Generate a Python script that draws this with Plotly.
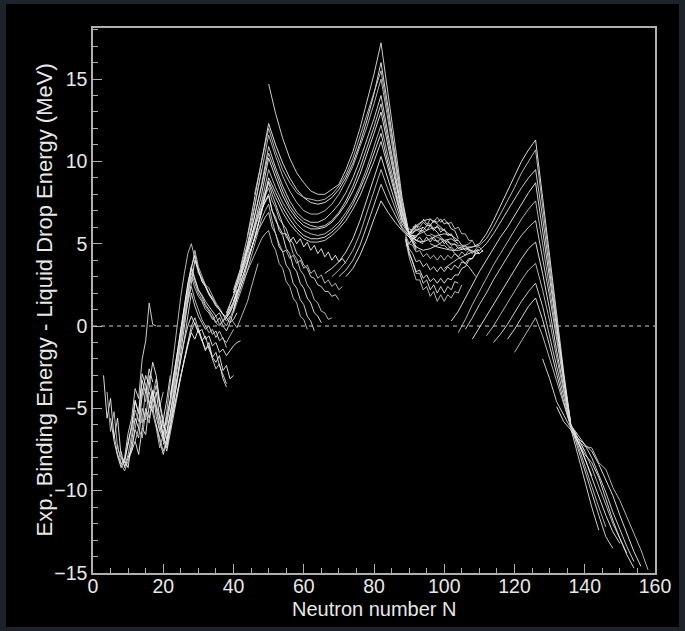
import plotly.graph_objects as go

# ---------------- data ----------------
# Light isotope chains, one value per neutron number (step 1)
LIGHT_N0 = [3, 4, 6, 5, 7, 8, 10, 12, 14, 16, 18, 16, 20, 19, 22, 20, 21, 22, 9]
LIGHT_VALS = [
    [-3.0, -5.6, -4.4, -6.8, -5.6, -7.9, -8.3, -7.0, -6.2, -4.6, -5.3, -3.3, -4.1, -2.6, -3.4],
    [-4.0, -6.4, -5.2, -7.4, -8.0, -8.5, -7.8, -6.6, -5.1, -5.8, -3.8, -4.6, -3.0, -4.2, -3.2, -4.9, -4.0],
    [-6.6, -7.8, -8.4, -8.0, -6.5, -5.6, -3.8, -4.4, -2.0, -0.9, 1.4, 0.1, 0.0],
    [-5.6, -7.0, -7.9, -8.6, -8.1, -7.2, -6.0, -4.5, -5.3, -2.9, -3.6, -4.8, -3.9, -5.5, -6.4, -5.7, -4.5, -3.0],
    [-7.2, -8.4, -8.8, -8.2, -7.6, -6.2, -5.1, -5.9, -3.8, -4.6, -5.3, -6.2, -7.4, -6.6, -5.2, -3.4, -1.6, 0.2, 1.8, 3.2,
     4.4, 5.0, 4.0, 3.2, 2.9, 2.5, 2.0, 1.6],
    [-7.6, -8.6, -8.0, -7.4, -6.3, -6.8, -5.0, -5.7, -3.6, -4.3, -5.0, -6.0, -6.8, -7.6, -6.5, -5.3, -4.2, -3.1, -2.0, -1.0,
     0.0, 0.5, -0.2, -0.8, -1.4, -1.2, -2.0, -2.6, -2.3, -3.2, -3.7],
    [-8.0, -7.6, -7.0, -7.8, -6.2, -6.6, -4.8, -5.2, -4.0, -5.6, -6.8, -7.2, -6.0, -5.1, -4.0, -3.0, -2.0, -1.1, -0.4, -0.8,
     -0.2, -0.9, -1.5, -1.0, -1.9, -2.2, -1.8, -2.7, -2.4, -3.2, -3.0],
    [-7.0, -6.2, -6.8, -5.2, -5.9, -4.4, -5.0, -6.3, -7.0, -5.9, -4.6, -3.2, -1.8, -0.3, 1.0, 2.1, 3.0, 2.3, 1.8, 1.5,
     1.0, 0.8, 0.4, 0.6, 0.1, 0.3, 0.0, 0.5, 1.0, 1.8],
    [-6.2, -5.0, -5.6, -4.4, -3.6, -4.8, -6.0, -6.5, -5.4, -4.0, -2.5, -1.0, 0.4, 1.6, 3.5, 2.8, 2.2, 1.9, 1.5, 1.2,
     0.9, 0.6, 0.8, 0.3, 0.5, 0.9, 1.4, 2.2],
    [-5.0, -4.0, -4.8, -5.6, -6.6, -7.4, -6.2, -4.8, -3.2, -1.6, 0.0, 1.5, 2.6, 4.0, 3.4, 2.7, 2.4, 1.9, 1.6, 1.2,
     1.0, 0.7, 0.5, 0.2, 0.4, 0.8],
    [-6.0, -6.8, -7.6, -6.9, -5.5, -3.8, -2.2, -0.6, 0.9, 2.2, 3.4, 4.6, 3.6, 3.0, 2.5, 2.3, 1.8, 1.4, 1.1, 0.7,
     0.3, 0.6, 0.2, -0.1, 0.4, 0.9, 1.5, 2.3, 3.0, 3.8],
    [-4.0, -5.0, -6.1, -7.0, -7.8, -7.0, -6.2, -5.0, -4.1, -3.0, -2.0, -1.2, -0.3, 0.2, -0.3, -0.9, -0.6, -1.4, -1.9, -1.6,
     -2.4, -2.9, -3.5],
    [-7.2, -6.4, -5.3, -4.2, -3.0, -1.9, -0.9, 0.0, 0.6, 0.1, -0.4, -0.2, -0.8, -0.6, -1.2, -1.0, -1.6, -1.4, -1.8, -1.5,
     -1.2, -1.0, -0.9],
    [-5.4, -6.2, -5.8, -4.5, -3.4, -2.0, -0.8, 0.4, 1.5, 2.4, 1.6, 1.0, 0.4, 0.0, -0.4, -0.2, -0.7, -0.3, -0.8, -1.0,
     -0.6, -0.2],
    [-4.2, -3.0, -1.6, -0.2, 1.3, 2.6, 3.6, 2.9, 2.2, 1.8, 1.3, 1.0, 0.7, 0.2, 0.5, 0.0, -0.3, 0.2, 0.9, 1.8,
     2.8, 3.8, 4.9, 6.0, 7.2, 8.3, 9.5],
    [-6.6, -5.6, -4.4, -3.0, -1.6, -0.2, 1.2, 2.5, 3.6, 4.3, 3.4, 2.8, 2.4, 2.0, 1.7, 1.3, 1.0, 0.7, 0.5, 0.8, 1.3, 2.0],
    [-6.0, -4.8, -3.6, -2.2, -0.8, 0.6, 1.8, 3.2, 2.6, 2.0, 1.6, 1.2, 0.9, 0.5, 0.2, 0.0, 0.3, 0.7, 1.2],
    [-5.8, -4.6, -3.3, -2.0, -0.8, 0.6, 2.0, 1.2, 0.6, 0.2, -0.2, 0.0, -0.5, -0.3, -0.9, -0.7, -1.3],
    [-8.2, -8.6, -7.0, -5.6, -6.2, -4.2, -3.0, -3.6, -2.2, -3.0, -4.6, -5.8, -6.9, -6.0],
]

# Chains falling away from the N=50 closure (step 1)
FALL_N0 = [38, 38, 40, 42, 44, 40, 40]
FALL_VALS = [
    [0.6, 1.0, 1.4, 1.9, 2.4, 2.9, 3.4, 3.9, 4.4, 4.9, 5.3, 5.6, 5.8, 5.0, 4.6, 3.8, 3.5, 2.7, 2.4, 1.7, 1.4, 0.6, 0.4, -0.2],
    [0.8, 1.3, 1.8, 2.4, 3.0, 3.6, 4.2, 4.8, 5.3, 5.8, 6.2, 6.6, 6.9, 6.0, 5.6, 4.8, 4.5, 3.7, 3.4, 2.6, 2.3, 1.6, 1.3,
     0.6, 0.3, -0.3],
    [2.0, 2.7, 3.4, 4.1, 4.8, 5.4, 6.0, 6.6, 7.1, 7.5, 7.9, 7.0, 6.6, 5.8, 5.5, 4.7, 4.4, 3.6, 3.3, 2.6, 2.3, 1.7, 1.4,
     0.8, 0.6, 0.2],
    [3.0, 3.8, 4.6, 5.3, 6.0, 6.7, 7.3, 7.9, 8.4, 7.6, 7.2, 6.5, 6.2, 5.4, 5.1, 4.4, 4.1, 3.4, 3.1, 2.5, 2.2, 1.6, 1.4,
     0.9, 0.8, 0.4, 0.5],
    [4.5, 5.3, 6.0, 6.8, 7.5, 8.1, 8.7, 8.0, 7.4, 6.9, 6.2, 5.9, 5.3, 5.0, 4.4, 4.2, 3.7, 3.5, 3.0, 2.9, 2.5, 2.4, 2.1,
     2.1, 1.8, 1.9, 1.6],
    [1.0, 1.6, 2.3, 3.0, 3.8, 4.6, 5.4, 6.2, 7.0, 7.6, 8.0, 7.0, 6.4, 6.0, 5.6, 5.6, 5.1, 5.4, 5.0, 5.3, 4.8, 5.1, 4.6,
     4.9, 4.4, 4.7, 4.2, 4.5, 4.0, 4.3, 3.9, 4.1, 3.8],
    [0.8, 1.4, 2.0, 2.7, 3.4, 4.2, 5.0, 5.8, 6.5, 7.0, 7.4, 6.4, 5.6, 5.0, 4.5, 4.6, 4.1, 4.3, 3.8, 4.0, 3.5, 3.7, 3.2,
     3.4, 2.9, 3.1, 2.6, 2.8, 2.4, 2.6, 2.2, 2.4],
]

# Chains spanning N=50 and N=82 closures (even N only, step 2)
U_N0 = [50, 44, 42, 40, 40, 38, 38, 66, 68, 70, 72, 46, 42, 40]
U_VALS = [
    [14.7, 12.9, 11.4, 10.2, 9.3, 8.7, 8.2, 8.0, 8.0, 8.3, 8.6, 9.5, 10.6, 12.0, 13.6, 15.3, 17.2, 14.2, 11.0, 7.8,
     5.6, 5.0],
    [5.5, 7.8, 10.0, 12.3, 11.0, 9.9, 9.0, 8.3, 7.8, 7.5, 7.4, 7.5, 7.8, 8.3, 9.0, 9.9, 11.1, 12.5, 14.1, 16.0,
     13.3, 10.4, 7.5, 5.6, 4.8],
    [3.6, 5.4, 7.3, 9.4, 11.6, 10.3, 9.1, 8.2, 7.5, 7.0, 6.8, 6.8, 7.0, 7.4, 8.0, 8.8, 9.7, 10.9, 12.1, 13.5,
     15.0, 12.5, 9.8, 7.2, 5.5, 4.6],
    [2.2, 3.5, 5.0, 6.7, 8.6, 10.9, 9.6, 8.5, 7.6, 6.9, 6.5, 6.3, 6.3, 6.5, 6.9, 7.4, 8.1, 9.0, 10.1, 11.3,
     12.6, 14.0, 11.7, 9.3, 7.0, 5.6, 5.2, 5.0],
    [2.0, 3.2, 4.6, 6.2, 8.0, 10.2, 9.0, 7.9, 7.1, 6.5, 6.1, 5.9, 5.9, 6.0, 6.3, 6.8, 7.4, 8.2, 9.2, 10.4,
     11.7, 13.0, 10.9, 8.8, 6.8, 5.6, 5.8, 6.0],
    [0.8, 1.8, 3.0, 4.3, 5.8, 7.5, 9.5, 8.4, 7.5, 6.8, 6.2, 5.8, 5.6, 5.5, 5.6, 5.9, 6.3, 6.9, 7.6, 8.5,
     9.6, 10.9, 12.2, 10.3, 8.4, 6.6, 5.7, 6.1, 6.4],
    [0.6, 1.5, 2.6, 3.9, 5.3, 6.9, 8.8, 7.8, 6.9, 6.2, 5.7, 5.3, 5.1, 5.1, 5.2, 5.5, 5.9, 6.4, 7.1, 7.9,
     8.9, 10.0, 11.2, 9.6, 8.0, 6.4, 5.6, 6.2],
    [3.2, 3.5, 3.9, 4.5, 5.3, 6.4, 7.7, 9.0, 10.3, 8.9, 7.5, 6.2, 5.6, 6.0, 6.4, 6.5, 6.2, 5.8],
    [3.0, 3.4, 3.9, 4.6, 5.6, 6.9, 8.2, 9.5, 8.3, 7.1, 6.0, 5.5, 5.5, 5.7, 5.9, 6.0, 5.8, 5.5],
    [3.0, 3.4, 4.0, 4.9, 6.1, 7.4, 8.6, 7.6, 6.7, 5.9, 5.5, 5.2, 5.1, 5.3, 5.5, 5.6, 5.5, 5.2],
    [3.0, 3.5, 4.3, 5.3, 6.5, 7.6, 6.9, 6.3, 5.8, 5.4, 4.8, 4.6, 4.7, 4.9, 5.2, 5.3, 5.0],
    [8.0, 10.1, 12.0, 10.6, 9.5, 8.7, 8.1, 7.8, 7.7, 7.6, 7.7, 8.0, 8.5, 9.2, 10.2, 11.5, 12.8, 14.1, 15.5, 12.9,
     10.1, 7.4, 5.6, 4.7],
    [3.0, 4.8, 6.6, 8.5, 10.5, 9.3, 8.2, 7.3, 6.7, 6.3, 6.1, 6.0, 6.1, 6.4, 6.9, 7.6, 8.5, 9.6, 10.8, 12.1,
     13.5, 11.3, 9.0, 6.9, 5.6, 5.4],
    [1.5, 2.6, 3.9, 5.3, 7.0, 9.0, 8.1, 7.2, 6.5, 5.9, 5.5, 5.3, 5.3, 5.4, 5.7, 6.1, 6.7, 7.4, 8.3, 9.3,
     10.5, 11.7, 9.9, 8.2, 6.5, 5.6, 6.0],
]

# Deformed region between N=88 and N=112 (step 1)
NET_N0 = [89, 89, 89, 89, 89, 89, 89, 89, 89, 91, 94]
NET_VALS = [
    [5.6, 5.9, 5.8, 6.1, 6.0, 6.3, 6.1, 6.5, 6.3, 6.6, 6.3, 6.5, 6.2, 6.3, 5.9, 6.0, 5.6, 5.6, 5.2, 5.2, 4.8, 4.8, 4.5],
    [5.5, 5.7, 5.6, 5.9, 5.7, 6.0, 5.8, 6.1, 5.8, 6.1, 5.7, 5.9, 5.5, 5.6, 5.2, 5.2, 4.9, 4.9, 4.6, 4.6, 4.4, 4.5],
    [5.6, 5.4, 5.5, 5.2, 5.4, 5.1, 5.4, 5.1, 5.4, 5.1, 5.3, 5.0, 5.2, 4.9, 5.0, 4.7, 4.8, 4.6, 4.7, 4.5, 4.6, 4.4, 4.6],
    [5.5, 5.0, 4.9, 4.5, 4.6, 4.2, 4.4, 4.1, 4.3, 4.0, 4.3, 4.0, 4.3, 4.1, 4.4, 4.2, 4.5, 4.3, 4.6, 4.4, 4.7, 4.6],
    [5.4, 4.7, 4.4, 3.9, 4.0, 3.6, 3.8, 3.4, 3.6, 3.3, 3.6, 3.3, 3.6, 3.4, 3.7, 3.5, 3.9, 3.8, 4.1, 4.1, 4.4, 4.4, 4.6],
    [5.3, 4.5, 3.9, 3.3, 3.4, 2.9, 3.1, 2.7, 2.9, 2.6, 2.9, 2.6, 2.9, 2.8, 3.1, 3.1, 3.5, 3.6, 4.0, 4.1, 4.5],
    [5.2, 4.2, 3.5, 2.8, 2.8, 2.2, 2.4, 1.8, 2.1, 1.5, 1.9, 1.5, 1.9, 1.7, 2.1, 2.0, 2.5],
    [5.3, 4.4, 3.9, 3.2, 3.2, 2.6, 2.8, 2.2, 2.5, 2.0, 2.4, 2.0, 2.4, 2.2, 2.7, 2.6],
    [4.9, 5.0, 5.3, 5.4, 5.7, 5.8, 6.1, 6.1, 6.4, 6.3, 6.5, 6.2, 6.3, 5.9, 5.8, 5.3],
    [6.0, 6.1, 5.8, 5.8, 5.5, 5.5, 5.2, 5.2, 4.9, 4.9, 4.7, 4.8, 4.6, 4.8, 4.7, 4.9, 5.0, 5.2],
    [6.5, 6.2, 6.2, 5.9, 5.7, 5.4, 5.2, 4.9, 4.7, 4.4, 4.2, 4.0, 3.8, 3.6, 3.3, 3.0],
]

# Heavy chains through the N=126 closure (even N only, step 2)
HEAVY_N0 = [96, 96, 100, 102, 104, 106, 108, 112, 114, 118, 120, 128, 132]
HEAVY_VALS = [
    [5.0, 4.8, 4.7, 4.6, 4.6, 4.7, 4.8, 5.0, 5.6, 6.4, 7.3, 8.2, 9.1, 10.0, 10.7, 11.3, 7.8, 4.2, 0.6, -2.8, -5.9],
    [5.6, 5.4, 5.2, 5.0, 4.9, 4.8, 4.8, 4.9, 5.3, 6.0, 6.8, 7.6, 8.4, 9.3, 10.0, 10.7, 7.3, 3.8, 0.3, -3.0, -6.0, -6.6],
    [3.5, 3.8, 4.1, 4.3, 4.5, 4.6, 5.0, 5.6, 6.3, 7.0, 7.7, 8.4, 9.0, 9.5, 6.6, 3.3, 0.0, -3.1, -6.0, -6.8, -7.6],
    [0.3, 0.9, 1.7, 2.5, 3.3, 4.0, 4.7, 5.4, 6.0, 6.7, 7.4, 8.1, 8.7, 5.9, 2.9, -0.1, -3.1, -6.0, -7.0, -8.0, -9.1],
    [-0.4, 0.4, 1.3, 2.1, 2.9, 3.7, 4.4, 5.1, 5.8, 6.5, 7.1, 7.6, 5.0, 2.3, -0.5, -3.2, -5.9, -7.2, -8.5, -9.8,
     -11.0, -12.2],
    [-0.2, 0.5, 1.3, 2.0, 2.8, 3.5, 4.2, 4.9, 5.5, 6.0, 6.4, 4.2, 1.8, -0.8, -3.4, -6.0, -7.4, -8.8, -10.2, -11.5,
     -12.8, -13.5],
    [-0.8, -0.1, 0.6, 1.3, 2.0, 2.7, 3.4, 4.1, 4.7, 5.1, 3.2, 1.0, -1.5, -3.8, -6.0, -7.0, -8.0, -9.2, -10.4, -11.5,
     -12.5, -13.2],
    [-0.6, 0.0, 0.7, 1.4, 2.1, 2.8, 3.4, 3.8, 2.2, 0.3, -1.9, -4.0, -6.0, -6.8, -7.6, -8.6, -9.7, -10.9, -12.0, -12.9,
     -13.8],
    [-1.0, -0.5, 0.1, 0.8, 1.5, 2.1, 2.6, 1.2, -0.6, -2.5, -4.3, -6.1, -6.6, -7.2, -8.0, -9.0, -10.1, -11.3, -12.4,
     -13.4, -14.3],
    [-0.8, -0.2, 0.5, 1.2, 1.7, 0.4, -1.2, -2.9, -4.6, -6.1, -6.8, -7.2, -7.6, -8.4, -9.3, -10.3, -11.5, -12.6, -13.7,
     -14.6],
    [-1.6, -0.9, -0.2, 0.5, -0.6, -2.0, -3.4, -4.8, -6.1, -7.0, -7.3, -7.4, -8.3, -8.7, -9.8, -10.6, -11.6, -12.6,
     -13.6, -14.8],
    [-2.0, -3.2, -4.6, -5.4, -6.2, -7.8, -9.4, -11.0, -12.4],
    [-4.9, -5.8, -6.3, -7.0, -7.8, -8.3, -9.2, -10.5, -11.8, -12.9, -13.9, -14.7],
]

X_TICKS = [0, 20, 40, 60, 80, 100, 120, 140, 160]
Y_TICKS = [-15, -10, -5, 0, 5, 10, 15]
X_TITLE = "Neutron number N"
Y_TITLE = "Exp. Binding Energy - Liquid Drop Energy (MeV)"

# ---------------- figure ----------------
W, H = 685, 631
ML, MR, MT, MB = 93, 30, 28, 58
PW, PH = W - ML - MR, H - MT - MB

LINE_COLORS = ["rgba(240,240,240,0.9)", "rgba(200,200,200,0.9)", "rgba(225,225,225,0.9)"]

fig = go.Figure()
k = 0


def add_group(n0s, vals, step):
    global k
    for n0, v in zip(n0s, vals):
        xs = [n0 + step * i for i in range(len(v))]
        fig.add_trace(go.Scatter(
            x=xs, y=v, mode="lines",
            line=dict(color=LINE_COLORS[k % len(LINE_COLORS)], width=1),
            hoverinfo="skip", showlegend=False))
        k += 1


add_group(LIGHT_N0, LIGHT_VALS, 1)
add_group(FALL_N0, FALL_VALS, 1)
add_group(U_N0, U_VALS, 2)
add_group(NET_N0, NET_VALS, 1)
add_group(HEAVY_N0, HEAVY_VALS, 2)

FONT = "Liberation Sans, Arial, Helvetica, sans-serif"
TXT = "#e8e8e8"
FRAME = "#b0b0b0"


def px_x(p):
    return (p - ML) / PW


def px_y(p):
    return (H - MB - p) / PH


axis_common = dict(
    showgrid=False, zeroline=False, showline=True, mirror=True,
    linecolor=FRAME, linewidth=1.5,
    ticks="inside", ticklen=9, tickwidth=1, tickcolor=FRAME,
    tickfont=dict(family=FONT, size=19.5, color=TXT),
)

fig.update_layout(
    width=W, height=H,
    margin=dict(l=ML, r=MR, t=MT, b=MB, pad=0),
    paper_bgcolor="#1e222b",
    plot_bgcolor="#000000",
    xaxis=dict(range=[0, 160], tickmode="array", tickvals=X_TICKS, ticklabelstandoff=-5,
               minor=dict(dtick=5, tick0=0, ticks="inside", ticklen=5, tickcolor=FRAME, tickwidth=1),
               **axis_common),
    yaxis=dict(range=[-15, 18.1], tickmode="array", tickvals=Y_TICKS,
               minor=dict(dtick=1, tick0=0, ticks="inside", ticklen=5, tickcolor=FRAME, tickwidth=1),
               **axis_common),
    shapes=[
        dict(type="rect", xref="paper", yref="paper", layer="below",
             x0=px_x(6), x1=px_x(W - 6), y0=px_y(H - 4), y1=px_y(4),
             fillcolor="#000000", line=dict(width=0)),
        dict(type="line", xref="x", yref="y", x0=0, x1=160, y0=0, y1=0,
             line=dict(color="#d0d0d0", width=1, dash="4px,4px"), layer="above"),
    ],
    annotations=[
        dict(text=X_TITLE, xref="paper", yref="paper", x=0.5, y=px_y(609),
             xanchor="center", yanchor="middle", showarrow=False,
             font=dict(family=FONT, size=20, color=TXT)),
        dict(text=Y_TITLE, xref="paper", yref="paper", x=px_x(44), y=0.5,
             xanchor="center", yanchor="middle", textangle=-90, showarrow=False,
             font=dict(family=FONT, size=22, color=TXT)),
    ],
)

fig.write_html("out.html")
